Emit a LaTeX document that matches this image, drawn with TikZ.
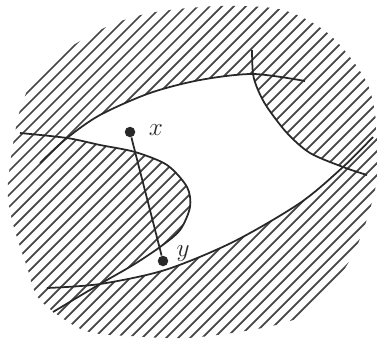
\documentclass[tikz,border=0pt]{standalone}
\usetikzlibrary{positioning}
\definecolor{inkgray}{RGB}{40,40,40}
\definecolor{hatchgray}{RGB}{70,70,70}

\begin{document}
\begin{tikzpicture}[x=0.02cm,y=-0.02cm,
    curve/.style={draw=inkgray,line width=1pt},
    hatch/.style={draw=hatchgray,line width=1pt},
    dot/.style={circle,fill=inkgray,inner sep=0pt,minimum size=0.21cm},
    lbl/.style={text=inkgray,font=\fontsize{14}{16}\selectfont}]
  \useasboundingbox (0,0) rectangle (377,338);
  % hatched blob
  \begin{scope}
    \clip plot[smooth cycle] coordinates {(20,110) (43,67) (100,30) (150,13)
      (220,6) (283,10) (330,35) (367,83) (377,133) (375,190) (350,260)
      (300,317) (200,337) (130,336) (83,330) (40,300) (27,267) (12,220) (8,183)};
    \foreach \c in {0,12,...,768}
      \draw[hatch] (\c,0) -- (\c-400,400);
  \end{scope}
  % region between the four curves
  \fill[white] plot[smooth] coordinates {(67,138) (100,115) (150,93) (200,80) (253,74)}
    -- plot[smooth] coordinates {(253,74) (258,90) (267,107) (287,133) (310,153) (343,167)}
    -- plot[smooth] coordinates {(343,167) (300,203) (233,242) (165,270) (100,284)}
    -- plot[smooth] coordinates {(100,284) (133,265) (160,247) (180,230) (190,207)
         (187,187) (167,165) (135,152) (100,145) (67,138)} -- cycle;
  % curves
  \draw[curve] plot[smooth] coordinates {(40,163) (67,138) (100,115) (150,93)
    (200,80) (253,74) (305,81)};
  \draw[curve] plot[smooth] coordinates {(252,50) (253,74) (258,90) (267,107)
    (287,133) (310,153) (343,167) (367,175)};
  \draw[curve] plot[smooth] coordinates {(47,288) (100,284) (165,270) (233,242)
    (300,203) (343,167) (373,137)};
  \draw[curve] plot[smooth] coordinates {(20,133) (67,138) (100,145) (135,152)
    (167,165) (187,187) (190,207) (180,230) (160,247) (133,265) (100,284) (53,312)};
  % the two points
  \node[dot] (x) at (130,132) {};
  \node[dot] (y) at (163,261) {};
  \draw[curve] (x) -- (y);
  \node[lbl,right=4pt of x,yshift=1pt] (xlabel) {$x$};
  \node[lbl,right=1pt of y,yshift=4pt] (ylabel) {$y$};
\end{tikzpicture}
\end{document}
